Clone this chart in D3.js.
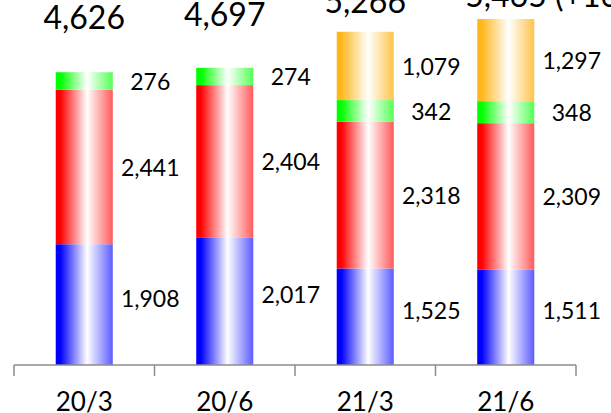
<!DOCTYPE html>
<html>
<head>
<meta charset="utf-8">
<script src="https://cdn.jsdelivr.net/npm/d3@7"></script>
<style>
  html, body { margin: 0; padding: 0; background: #fff; }
  svg { display: block; }
  text { font-family: Lato, "Open Sans", sans-serif; fill: #000; }
</style>
</head>
<body>
<svg id="chart" width="611" height="413"></svg>
<script>
// Quarters on the x axis
const categories = ["20/3", "20/6", "21/3", "21/6"];

// Stacked segments, bottom to top
const seriesBlue   = [1908, 2017, 1525, 1511];
const seriesRed    = [2441, 2404, 2318, 2309];
const seriesGreen  = [276, 274, 342, 348];
const seriesOrange = [0, 0, 1079, 1297];

// Totals shown above each column
const totals = [4626, 4697, 5266, 5465];

const series = [
  { key: "blue",   values: seriesBlue,   color: "#0000ff", fade: "#5c5cff" },
  { key: "red",    values: seriesRed,    color: "#ff0000", fade: "#ff5a5a" },
  { key: "green",  values: seriesGreen,  color: "#00ff00", fade: "#55ff55" },
  { key: "orange", values: seriesOrange, color: "#ffb81c", fade: "#ffc44a" }
];

const svg = d3.select("#chart");
const axisY = 365;

const x = d3.scaleBand()
  .domain(categories)
  .range([14, 576])
  .paddingInner(0.594)
  .paddingOuter(0.297);

const y = d3.scaleLinear()
  .domain([0, 5766])
  .range([axisY, 0]);

// Horizontal "cylinder" gradients: solid at the left, white near the middle, lighter at the right
const defs = svg.append("defs");
series.forEach(s => {
  const g = defs.append("linearGradient")
    .attr("id", "grad-" + s.key)
    .attr("x1", "0%").attr("x2", "100%")
    .attr("y1", "0%").attr("y2", "0%");
  g.append("stop").attr("offset", "0%").attr("stop-color", s.color);
  g.append("stop").attr("offset", "8%").attr("stop-color", s.color);
  g.append("stop").attr("offset", "55%").attr("stop-color", "#ffffff");
  g.append("stop").attr("offset", "100%").attr("stop-color", s.fade);
});

// Build the stack
const rows = categories.map((c, i) => {
  const r = { cat: c };
  series.forEach(s => { r[s.key] = s.values[i]; });
  return r;
});
const stack = d3.stack().keys(series.map(s => s.key))(rows);

const layers = svg.append("g").selectAll("g")
  .data(stack)
  .join("g")
  .attr("fill", d => "url(#grad-" + d.key + ")");

layers.selectAll("rect")
  .data(d => d.filter(p => p[1] - p[0] > 0))
  .join("rect")
  .attr("x", d => x(d.data.cat))
  .attr("width", x.bandwidth())
  .attr("y", d => y(d[1]))
  .attr("height", d => y(d[0]) - y(d[1]));

// Segment value labels, to the right of each column
const fmt = d3.format(",");
const labelShift = 66;
stack.forEach((layer, li) => {
  svg.append("g").selectAll("text")
    .data(layer.filter(p => p[1] - p[0] > 0))
    .join("text")
    .attr("x", d => x(d.data.cat) + x.bandwidth() / 2 + labelShift)
    .attr("y", d => (y(d[0]) + y(d[1])) / 2 + (li === 0 ? -7 : 0))
    .attr("text-anchor", "middle")
    .attr("dominant-baseline", "central")
    .style("font-size", "23px")
    .text(d => fmt(d[1] - d[0]));
});

// Column totals
const totalBaselines = [29, 26, 13, 7];
const growth = Math.round((totals[3] / totals[1] - 1) * 100);
svg.append("g").selectAll("text")
  .data(totals)
  .join("text")
  .attr("x", (d, i) => i === 3 ? x(categories[i]) - 12 : x(categories[i]) + x.bandwidth() / 2)
  .attr("y", (d, i) => totalBaselines[i])
  .attr("text-anchor", (d, i) => i === 3 ? "start" : "middle")
  .style("font-size", "32px")
  .text((d, i) => i === 3 ? fmt(d) + " (+" + growth + "%)" : fmt(d));

// Category axis: baseline with boundary ticks between the bands
const axisG = svg.append("g");
const edges = d3.range(categories.length + 1).map(i => x.range()[0] + i * x.step());
axisG.append("line")
  .attr("x1", edges[0]).attr("x2", edges[edges.length - 1])
  .attr("y1", axisY).attr("y2", axisY)
  .attr("stroke", "#8c8c8c").attr("stroke-width", 1.5);
axisG.selectAll("line.tick")
  .data(edges)
  .join("line")
  .attr("class", "tick")
  .attr("x1", d => d).attr("x2", d => d)
  .attr("y1", axisY).attr("y2", axisY + 11)
  .attr("stroke", "#8c8c8c").attr("stroke-width", 1.5);

axisG.selectAll("text.cat")
  .data(categories)
  .join("text")
  .attr("class", "cat")
  .attr("x", d => x(d) + x.bandwidth() / 2)
  .attr("y", 411)
  .attr("text-anchor", "middle")
  .style("font-size", "26px")
  .text(d => d);
</script>
</body>
</html>
